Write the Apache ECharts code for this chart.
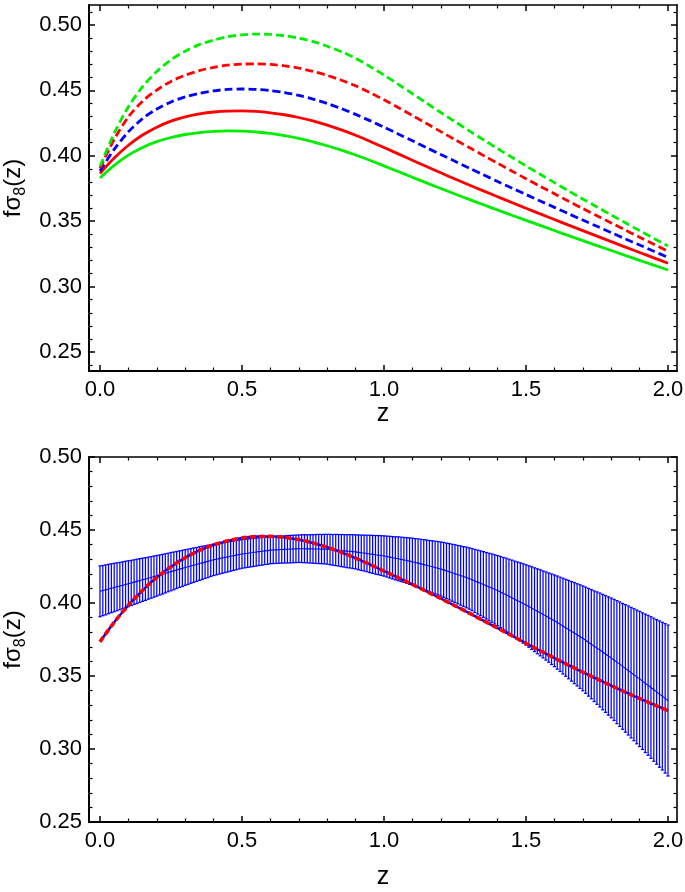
<!DOCTYPE html>
<html><head><meta charset="utf-8">
<script src="https://cdn.jsdelivr.net/npm/echarts@6/dist/echarts.min.js"></script>
<style>html,body{margin:0;padding:0;background:#fff}#c{width:685px;height:892px}</style>
</head><body><div id="c"></div>
<script>
// ---------- top panel data ----------
const zTop = [0,0.05,0.1,0.15,0.2,0.25,0.3,0.35,0.4,0.45,0.5,0.55,0.6,0.65,0.7,0.75,0.8,0.85,0.9,0.95,1.0,
              1.05,1.1,1.15,1.2,1.25,1.3,1.35,1.4,1.45,1.5,1.55,1.6,1.65,1.7,1.75,1.8,1.85,1.9,1.95,2.0];
const greenDashed = [0.392,0.4172,0.4375,0.4529,0.4645,0.4734,0.48,0.485,0.4885,0.491,0.4925,0.4931,0.4928,0.4918,0.49,0.4873,0.4838,0.4796,0.4745,0.4684,0.4617,
                     0.4547,0.4475,0.4403,0.4331,0.4261,0.4191,0.4123,0.4055,0.3989,0.3923,0.3859,0.3795,0.3732,0.367,0.3609,0.3548,0.3488,0.3428,0.3369,0.331];
const redDashed   = [0.3905,0.4125,0.4298,0.4418,0.4503,0.4569,0.4616,0.4651,0.4676,0.4693,0.4701,0.4703,0.4699,0.4688,0.467,0.4646,0.4615,0.4578,0.4535,0.4484,0.4428,
                     0.4369,0.4308,0.4247,0.4185,0.4124,0.4063,0.4003,0.3943,0.3884,0.3825,0.3767,0.371,0.3653,0.3597,0.3542,0.3487,0.3432,0.3378,0.3324,0.327];
const blueDashed  = [0.3884,0.4049,0.4183,0.4284,0.4358,0.4412,0.445,0.4478,0.4497,0.4508,0.4511,0.4508,0.4499,0.4484,0.4462,0.4434,0.44,0.4361,0.4317,0.4269,0.4219,
                     0.4167,0.4115,0.4062,0.401,0.3958,0.3906,0.3855,0.3804,0.3754,0.3704,0.3655,0.3606,0.3557,0.3509,0.3461,0.3413,0.3365,0.3318,0.3271,0.3224];
const redSolid    = [0.3865,0.3983,0.4081,0.4159,0.4219,0.4265,0.4298,0.432,0.4335,0.4342,0.4343,0.4339,0.4329,0.4314,0.4293,0.4267,0.4235,0.4198,0.4157,0.4112,0.4064,
                     0.4015,0.3966,0.3918,0.387,0.3823,0.3777,0.3732,0.3687,0.3643,0.3599,0.3556,0.3513,0.347,0.3428,0.3386,0.3344,0.3302,0.3261,0.322,0.3179];
const greenSolid  = [0.3831,0.3927,0.4005,0.4064,0.4108,0.414,0.4163,0.4178,0.4187,0.419,0.4189,0.4182,0.4171,0.4154,0.4133,0.4107,0.4077,0.4043,0.4006,0.3966,0.3923,
                     0.388,0.3836,0.3793,0.375,0.3708,0.3667,0.3626,0.3586,0.3546,0.3507,0.3468,0.3429,0.339,0.3352,0.3314,0.3276,0.3238,0.3201,0.3164,0.3127];

// ---------- bottom panel data ----------
const zFit = [0,0.05,0.1,0.15,0.2,0.25,0.3,0.35,0.4,0.45,0.5,0.55,0.6,0.65,0.7,0.75,0.8,0.85,0.9,0.95,1.0,
              1.05,1.1,1.15,1.2,1.25,1.3,1.35,1.4,1.45,1.5,1.55,1.6,1.65,1.7,1.75,1.8,1.85,1.9,1.95,2.0];
const fitCurve = [0.3735,0.3868,0.3985,0.4087,0.4175,0.4249,0.431,0.436,0.4398,0.4426,0.4445,0.4455,0.4456,0.4449,0.4434,0.4411,0.4382,0.4347,0.4307,0.4264,0.4219,
                  0.4173,0.4127,0.4079,0.4031,0.3981,0.3931,0.3879,0.3828,0.3776,0.3724,0.3673,0.3623,0.3574,0.3526,0.348,0.3434,0.339,0.3346,0.3304,0.3263];

const zBars = [
0.00,0.01,0.02,0.03,0.04,0.05,0.06,0.07,0.08,0.09,
0.10,0.11,0.12,0.13,0.14,0.15,0.16,0.17,0.18,0.19,
0.20,0.21,0.22,0.23,0.24,0.25,0.26,0.27,0.28,0.29,
0.30,0.31,0.32,0.33,0.34,0.35,0.36,0.37,0.38,0.39,
0.40,0.41,0.42,0.43,0.44,0.45,0.46,0.47,0.48,0.49,
0.50,0.51,0.52,0.53,0.54,0.55,0.56,0.57,0.58,0.59,
0.60,0.61,0.62,0.63,0.64,0.65,0.66,0.67,0.68,0.69,
0.70,0.71,0.72,0.73,0.74,0.75,0.76,0.77,0.78,0.79,
0.80,0.81,0.82,0.83,0.84,0.85,0.86,0.87,0.88,0.89,
0.90,0.91,0.92,0.93,0.94,0.95,0.96,0.97,0.98,0.99,
1.00,1.01,1.02,1.03,1.04,1.05,1.06,1.07,1.08,1.09,
1.10,1.11,1.12,1.13,1.14,1.15,1.16,1.17,1.18,1.19,
1.20,1.21,1.22,1.23,1.24,1.25,1.26,1.27,1.28,1.29,
1.30,1.31,1.32,1.33,1.34,1.35,1.36,1.37,1.38,1.39,
1.40,1.41,1.42,1.43,1.44,1.45,1.46,1.47,1.48,1.49,
1.50,1.51,1.52,1.53,1.54,1.55,1.56,1.57,1.58,1.59,
1.60,1.61,1.62,1.63,1.64,1.65,1.66,1.67,1.68,1.69,
1.70,1.71,1.72,1.73,1.74,1.75,1.76,1.77,1.78,1.79,
1.80,1.81,1.82,1.83,1.84,1.85,1.86,1.87,1.88,1.89,
1.90,1.91,1.92,1.93,1.94,1.95,1.96,1.97,1.98,1.99,
2.00];
const barMean = [
0.4080,0.4085,0.4090,0.4096,0.4101,0.4106,0.4111,0.4116,0.4122,0.4127,
0.4132,0.4137,0.4143,0.4148,0.4154,0.4159,0.4164,0.4170,0.4175,0.4181,
0.4186,0.4192,0.4197,0.4203,0.4209,0.4215,0.4220,0.4226,0.4232,0.4237,
0.4243,0.4248,0.4254,0.4259,0.4264,0.4270,0.4275,0.4280,0.4285,0.4291,
0.4296,0.4300,0.4304,0.4308,0.4312,0.4316,0.4320,0.4324,0.4328,0.4332,
0.4336,0.4339,0.4341,0.4344,0.4346,0.4349,0.4352,0.4354,0.4357,0.4359,
0.4362,0.4363,0.4364,0.4365,0.4366,0.4367,0.4368,0.4369,0.4370,0.4371,
0.4372,0.4372,0.4372,0.4371,0.4371,0.4370,0.4370,0.4370,0.4369,0.4369,
0.4368,0.4366,0.4364,0.4363,0.4361,0.4359,0.4357,0.4355,0.4354,0.4352,
0.4350,0.4347,0.4344,0.4342,0.4339,0.4336,0.4333,0.4330,0.4328,0.4325,
0.4322,0.4318,0.4314,0.4310,0.4306,0.4303,0.4299,0.4295,0.4291,0.4287,
0.4283,0.4278,0.4273,0.4268,0.4263,0.4258,0.4253,0.4248,0.4243,0.4238,
0.4233,0.4227,0.4220,0.4214,0.4207,0.4201,0.4194,0.4188,0.4181,0.4175,
0.4168,0.4160,0.4151,0.4143,0.4135,0.4127,0.4118,0.4110,0.4102,0.4093,
0.4085,0.4075,0.4065,0.4056,0.4046,0.4036,0.4026,0.4016,0.4007,0.3997,
0.3987,0.3976,0.3965,0.3954,0.3943,0.3933,0.3922,0.3911,0.3900,0.3889,
0.3878,0.3866,0.3854,0.3842,0.3830,0.3818,0.3806,0.3794,0.3782,0.3770,
0.3758,0.3745,0.3731,0.3718,0.3704,0.3691,0.3678,0.3664,0.3651,0.3637,
0.3624,0.3610,0.3595,0.3581,0.3566,0.3552,0.3538,0.3523,0.3509,0.3494,
0.3480,0.3465,0.3450,0.3436,0.3421,0.3406,0.3391,0.3376,0.3362,0.3347,
0.3332];
const barSigma = [
0.0174,0.0172,0.0171,0.0169,0.0167,0.0166,0.0164,0.0162,0.0160,0.0159,
0.0157,0.0155,0.0153,0.0152,0.0150,0.0148,0.0146,0.0144,0.0143,0.0141,
0.0139,0.0137,0.0136,0.0134,0.0132,0.0131,0.0129,0.0127,0.0125,0.0124,
0.0122,0.0121,0.0119,0.0118,0.0116,0.0115,0.0114,0.0112,0.0111,0.0109,
0.0108,0.0107,0.0106,0.0105,0.0104,0.0103,0.0102,0.0101,0.0100,0.0099,
0.0098,0.0098,0.0097,0.0097,0.0096,0.0096,0.0095,0.0095,0.0094,0.0094,
0.0093,0.0093,0.0093,0.0093,0.0093,0.0093,0.0094,0.0094,0.0094,0.0094,
0.0094,0.0095,0.0096,0.0096,0.0097,0.0098,0.0099,0.0100,0.0100,0.0101,
0.0102,0.0104,0.0105,0.0107,0.0108,0.0110,0.0111,0.0113,0.0114,0.0116,
0.0117,0.0119,0.0121,0.0123,0.0125,0.0128,0.0130,0.0132,0.0134,0.0136,
0.0138,0.0140,0.0143,0.0145,0.0147,0.0150,0.0152,0.0154,0.0156,0.0159,
0.0161,0.0163,0.0166,0.0168,0.0171,0.0173,0.0175,0.0178,0.0180,0.0183,
0.0185,0.0188,0.0190,0.0193,0.0195,0.0198,0.0200,0.0203,0.0205,0.0208,
0.0210,0.0213,0.0216,0.0219,0.0222,0.0225,0.0228,0.0231,0.0234,0.0237,
0.0240,0.0244,0.0247,0.0251,0.0254,0.0258,0.0261,0.0265,0.0268,0.0272,
0.0275,0.0279,0.0283,0.0287,0.0291,0.0295,0.0298,0.0302,0.0306,0.0310,
0.0314,0.0319,0.0323,0.0328,0.0332,0.0337,0.0341,0.0346,0.0350,0.0355,
0.0359,0.0364,0.0369,0.0374,0.0379,0.0385,0.0390,0.0395,0.0400,0.0405,
0.0410,0.0415,0.0421,0.0426,0.0431,0.0437,0.0442,0.0447,0.0452,0.0458,
0.0463,0.0468,0.0474,0.0479,0.0485,0.0490,0.0495,0.0501,0.0506,0.0512,
0.0517];

// ---------- ticks ----------
const xMajor = [0, 0.5, 1.0, 1.5, 2.0];
const xMinor = [0.1,0.2,0.3,0.4,0.6,0.7,0.8,0.9,1.1,1.2,1.3,1.4,1.6,1.7,1.8,1.9];
const yMajor = [0.25,0.30,0.35,0.40,0.45,0.50];
const yMinorTop = [0.24,0.26,0.27,0.28,0.29,0.31,0.32,0.33,0.34,0.36,0.37,0.38,0.39,0.41,0.42,0.43,0.44,0.46,0.47,0.48,0.49,0.51];
const yMinorBot = [0.26,0.27,0.28,0.29,0.31,0.32,0.33,0.34,0.36,0.37,0.38,0.39,0.41,0.42,0.43,0.44,0.46,0.47,0.48,0.49];

const FONT = 'Liberation Sans, Arial, sans-serif';
const chart = echarts.init(document.getElementById('c'), null, {renderer: 'canvas'});

const X_MIN = -0.0387, X_MAX = 2.0317;
const panels = [
  {top: 5, height: 366, yMin: 0.2355, yMax: 0.5153, yMinor: yMinorTop, xNameGap: 15},
  {top: 457, height: 365, yMin: 0.25, yMax: 0.50, yMinor: yMinorBot, xNameGap: 43}
];

const grids = [], xAxes = [], yAxes = [];
const tickMajor = {color: '#000', width: 1.5};
const tickMinor = {color: '#000', width: 1.2};
panels.forEach((p, g) => {
  grids.push({left: 89, right: 8, top: p.top, height: p.height, containLabel: false, outerBoundsMode: 'none'});
  const base = {gridIndex: g, type: 'value', min: X_MIN, max: X_MAX, splitLine: {show: false}};
  xAxes.push(Object.assign({}, base, {position: 'bottom',
    axisLine: {show: true, onZero: false, lineStyle: {color: '#000', width: 2}},
    axisTick: {show: true, inside: true, length: 6, customValues: xMajor, lineStyle: tickMajor},
    axisLabel: {show: true, customValues: xMajor, formatter: v => Number(v).toFixed(1), fontSize: 22, fontFamily: FONT, color: '#000', margin: 8},
    name: 'z', nameLocation: 'middle', nameGap: p.xNameGap,
    nameTextStyle: {fontSize: 25, fontFamily: FONT, color: '#000'}}));
  xAxes.push(Object.assign({}, base, {position: 'bottom',
    axisLine: {show: false, onZero: false}, axisTick: {show: true, inside: true, length: 3.5, customValues: xMinor, lineStyle: tickMinor},
    axisLabel: {show: false}}));
  xAxes.push(Object.assign({}, base, {position: 'top',
    axisLine: {show: true, onZero: false, lineStyle: {color: '#000', width: 1.6}},
    axisTick: {show: true, inside: true, length: 6, customValues: xMajor, lineStyle: tickMajor},
    axisLabel: {show: false}}));
  xAxes.push(Object.assign({}, base, {position: 'top',
    axisLine: {show: false, onZero: false}, axisTick: {show: true, inside: true, length: 3.5, customValues: xMinor, lineStyle: tickMinor},
    axisLabel: {show: false}}));
  const yb = {gridIndex: g, type: 'value', min: p.yMin, max: p.yMax, splitLine: {show: false}};
  yAxes.push(Object.assign({}, yb, {position: 'left',
    axisLine: {show: true, onZero: false, lineStyle: {color: '#000', width: 2}},
    axisTick: {show: true, inside: true, length: 6, customValues: yMajor, lineStyle: tickMajor},
    axisLabel: {show: true, customValues: yMajor, formatter: v => Number(v).toFixed(2), fontSize: 22, fontFamily: FONT, color: '#000', margin: 7},
    name: '{a|fσ}{s|8}{a|(z)}', nameLocation: 'middle', nameGap: 60,
    nameTextStyle: {fontSize: 24, fontFamily: FONT, color: '#000',
      rich: {a: {fontSize: 24, fontFamily: FONT, color: '#000', lineHeight: 30},
             s: {fontSize: 16, fontFamily: FONT, color: '#000', verticalAlign: 'bottom', lineHeight: 30}}}}));
  yAxes.push(Object.assign({}, yb, {position: 'left',
    axisLine: {show: false, onZero: false}, axisTick: {show: true, inside: true, length: 3.5, customValues: p.yMinor, lineStyle: tickMinor},
    axisLabel: {show: false}}));
  yAxes.push(Object.assign({}, yb, {position: 'right',
    axisLine: {show: true, onZero: false, lineStyle: {color: '#000', width: 1.6}},
    axisTick: {show: true, inside: true, length: 6, customValues: yMajor, lineStyle: tickMajor},
    axisLabel: {show: false}}));
  yAxes.push(Object.assign({}, yb, {position: 'right',
    axisLine: {show: false, onZero: false}, axisTick: {show: true, inside: true, length: 3.5, customValues: p.yMinor, lineStyle: tickMinor},
    axisLabel: {show: false}}));
});

const pairs = (xs, ys) => xs.map((x, i) => [x, ys[i]]);
const topLine = (ys, color, dashed) => ({
  type: 'line', xAxisIndex: 0, yAxisIndex: 0, data: pairs(zTop, ys), smooth: 0.3,
  showSymbol: false, silent: true, animation: false,
  lineStyle: {color: color, width: 2.8, type: dashed ? [8, 4] : 'solid', cap: 'butt'}
});

const GREEN = '#00ee00', RED = '#ff0000', BLUE = '#0000ff';
const barData = zBars.map((z, i) => [z, barMean[i] - barSigma[i], barMean[i] + barSigma[i]]);

const series = [
  topLine(greenSolid, GREEN, false),
  topLine(redSolid, RED, false),
  topLine(blueDashed, BLUE, true),
  topLine(redDashed, RED, true),
  topLine(greenDashed, GREEN, true),
  {
    type: 'custom', xAxisIndex: 4, yAxisIndex: 4, data: barData, silent: true, animation: false,
    encode: {x: 0, y: [1, 2]},
    renderItem: function (params, api) {
      const x = api.value(0);
      const pLo = api.coord([x, api.value(1)]);
      const pHi = api.coord([x, api.value(2)]);
      const w = 1.6;
      const st = {stroke: '#0000ff', lineWidth: 1.25, fill: null};
      return {type: 'group', children: [
        {type: 'line', shape: {x1: pLo[0], y1: pLo[1], x2: pHi[0], y2: pHi[1]}, style: st},
        {type: 'line', shape: {x1: pLo[0] - w, y1: pLo[1], x2: pLo[0] + w, y2: pLo[1]}, style: st},
        {type: 'line', shape: {x1: pHi[0] - w, y1: pHi[1], x2: pHi[0] + w, y2: pHi[1]}, style: st}
      ]};
    }
  },
  {type: 'line', xAxisIndex: 4, yAxisIndex: 4, data: pairs(zBars, barMean), showSymbol: false, silent: true, animation: false,
   lineStyle: {color: BLUE, width: 1.1}},
  {type: 'line', xAxisIndex: 4, yAxisIndex: 4, data: pairs(zFit, fitCurve), smooth: 0.3, showSymbol: false, silent: true, animation: false,
   lineStyle: {color: BLUE, width: 2.4}},
  {type: 'line', xAxisIndex: 4, yAxisIndex: 4, data: pairs(zFit, fitCurve), smooth: 0.3, showSymbol: false, silent: true, animation: false,
   lineStyle: {color: RED, width: 3.6, type: [6, 3], cap: 'butt'}}
];

chart.setOption({
  animation: false,
  backgroundColor: '#fff',
  grid: grids,
  xAxis: xAxes,
  yAxis: yAxes,
  series: series
});
</script>
</body></html>
